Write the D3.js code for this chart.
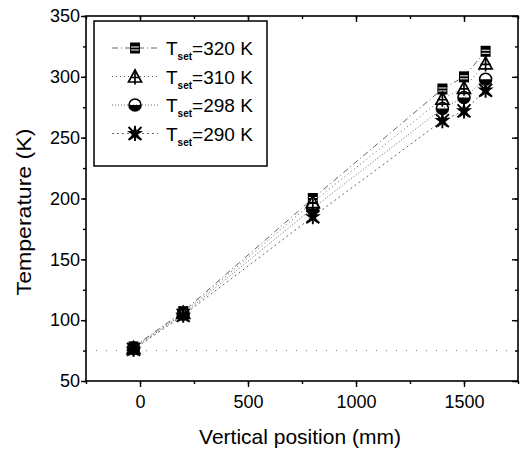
<!DOCTYPE html>
<html><head><meta charset="utf-8">
<script src="https://cdn.jsdelivr.net/npm/d3@7"></script>
<style>body{margin:0;background:#fff}svg{display:block;font-family:"Liberation Sans",Arial,sans-serif}</style>
</head><body><svg id="c" width="520" height="455"></svg>
<script>
const positions = [-30, 200, 800, 1400, 1500, 1600];
const seriesNames = ["320 K", "310 K", "298 K", "290 K"];
const t320 = [78, 107, 200, 290, 300, 321];
const t310 = [77, 106, 197, 282, 291, 311];
const t298 = [77, 105, 192, 274, 283, 298];
const t290 = [76, 104, 185, 264, 272, 289];
const baseline = 75;
const xTicks = [0, 500, 1000, 1500];
const yTicks = [50, 100, 150, 200, 250, 300, 350];

const series = [
  {name: seriesNames[0], vals: t320, kind: "square", dash: "6,3,1,3"},
  {name: seriesNames[1], vals: t310, kind: "triangle", dash: "1,3"},
  {name: seriesNames[2], vals: t298, kind: "circle", dash: "1,2"},
  {name: seriesNames[3], vals: t290, kind: "star", dash: "2,3"}
];

const svg = d3.select("#c");
const L = 86, R = 518, T = 16, B = 381;
const x = d3.scaleLinear().domain([-250, 1750]).range([L, R]);
const y = d3.scaleLinear().domain([50, 350]).range([B, T]);

svg.append("line").attr("x1", x(-250)).attr("x2", x(1750)).attr("y1", y(baseline)).attr("y2", y(baseline))
  .attr("stroke", "#777").attr("stroke-width", 1).attr("stroke-dasharray", "1,9");

const line = d3.line().x((d, i) => x(positions[i])).y(d => y(d));
series.forEach(s => {
  svg.append("path").attr("d", line(s.vals)).attr("fill", "none")
    .attr("stroke", "#666").attr("stroke-width", 1).attr("stroke-dasharray", s.dash);
});

function marker(g, kind, cx, cy) {
  const m = g.append("g").attr("transform", `translate(${cx},${cy})`);
  if (kind === "square") {
    m.append("rect").attr("x", -5).attr("y", -5.5).attr("width", 10).attr("height", 11).attr("fill", "#000");
    m.append("line").attr("x1", -4).attr("x2", 4).attr("y1", -1).attr("y2", -1).attr("stroke", "#fff").attr("stroke-width", 1);
    m.append("line").attr("x1", -4).attr("x2", 4).attr("y1", 2).attr("y2", 2).attr("stroke", "#fff").attr("stroke-width", 1);
  } else if (kind === "triangle") {
    m.append("path").attr("d", "M0,-6.5L6.5,5.5L-6.5,5.5Z").attr("fill", "#fff").attr("stroke", "#000").attr("stroke-width", 1.7);
    m.append("path").attr("d", "M0,-7V8M-5,1H5").attr("stroke", "#000").attr("stroke-width", 1.7);
  } else if (kind === "circle") {
    m.append("path").attr("d", "M-6,0A6,6 0 0,0 6,0Z").attr("fill", "#000");
    m.append("circle").attr("r", 6).attr("fill", "none").attr("stroke", "#000").attr("stroke-width", 1.6);
  } else {
    m.append("path").attr("d", d3.symbol(d3.symbolStar, 80)()).attr("fill", "#000");
    m.append("path").attr("d", "M-6.5,-6.5L6.5,6.5M-6.5,6.5L6.5,-6.5M0,-7.5V7.5").attr("stroke", "#000").attr("stroke-width", 1.9);
  }
}

series.forEach(s => {
  s.vals.forEach((v, i) => marker(svg, s.kind, x(positions[i]), y(v)));
});

svg.append("rect").attr("x", L).attr("y", T).attr("width", R - L).attr("height", B - T)
  .attr("fill", "none").attr("stroke", "#000").attr("stroke-width", 1.6);

const xMinor = d3.range(-250, 1751, 250);
const yMinor = d3.range(50, 351, 25);
const bx = svg.append("g").attr("transform", `translate(0,${B})`)
  .call(d3.axisBottom(x).tickValues(xMinor).tickSize(3).tickFormat(""));
const bx2 = svg.append("g").attr("transform", `translate(0,${B})`)
  .call(d3.axisBottom(x).tickValues(xTicks).tickSize(6).tickPadding(8).tickFormat(d3.format("d")));
const ly = svg.append("g").attr("transform", `translate(${L},0)`)
  .call(d3.axisLeft(y).tickValues(yMinor).tickSize(3).tickFormat(""));
const ly2 = svg.append("g").attr("transform", `translate(${L},0)`)
  .call(d3.axisLeft(y).tickValues(yTicks).tickSize(5).tickPadding(1).tickFormat(d3.format("d")));
const tx = svg.append("g").attr("transform", `translate(0,${T})`)
  .call(d3.axisBottom(x).tickValues(xMinor).tickSize(3).tickFormat(""));
const tx2 = svg.append("g").attr("transform", `translate(0,${T})`)
  .call(d3.axisBottom(x).tickValues(xTicks).tickSize(6).tickFormat(""));
const ry = svg.append("g").attr("transform", `translate(${R},0)`)
  .call(d3.axisLeft(y).tickValues(yMinor).tickSize(3).tickFormat(""));
const ry2 = svg.append("g").attr("transform", `translate(${R},0)`)
  .call(d3.axisLeft(y).tickValues(yTicks).tickSize(6).tickFormat(""));
[bx, bx2, ly, ly2, tx, tx2, ry, ry2].forEach(g => {
  g.select(".domain").remove();
  g.selectAll(".tick line").attr("stroke", "#000").attr("stroke-width", 1.4);
  g.selectAll("text").attr("fill", "#000").attr("font-size", 18).attr("font-family", "Liberation Sans, Arial, sans-serif");
});

svg.append("text").attr("x", 300).attr("y", 444).attr("text-anchor", "middle")
  .attr("font-size", 21).text("Vertical position (mm)");
svg.append("text").attr("transform", "translate(31,212) rotate(-90) scale(1.1,1)").attr("text-anchor", "middle")
  .attr("font-size", 21).text("Temperature (K)");

const lg = svg.append("g");
lg.append("rect").attr("x", 94).attr("y", 21).attr("width", 173).attr("height", 145)
  .attr("fill", "#fff").attr("stroke", "#000").attr("stroke-width", 1.5);
series.forEach((s, i) => {
  const yy = 48 + i * 28.5;
  lg.append("line").attr("x1", 112).attr("x2", 158).attr("y1", yy).attr("y2", yy)
    .attr("stroke", "#666").attr("stroke-width", 1).attr("stroke-dasharray", s.dash);
  marker(lg, s.kind, 135, yy);
  const t = lg.append("text").attr("x", 166).attr("y", yy + 7).attr("font-size", 19);
  t.append("tspan").text("T");
  t.append("tspan").attr("font-size", 10).attr("font-weight", "bold").attr("dy", 5).text("set");
  t.append("tspan").attr("dy", -5).text("=" + s.name);
});
</script></body></html>
